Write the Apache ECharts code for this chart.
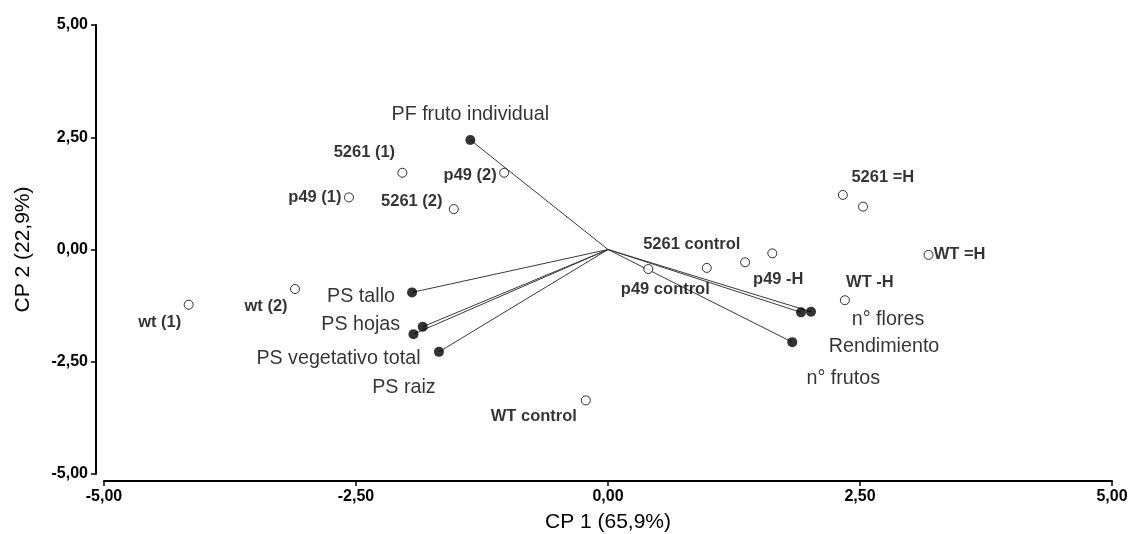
<!DOCTYPE html>
<html>
<head>
<meta charset="utf-8">
<title>Biplot CP1 / CP2</title>
<script src="https://cdn.jsdelivr.net/npm/echarts@6/dist/echarts.min.js"></script>
<style>
  html, body { margin: 0; padding: 0; background: #fff; }
  #chart { width: 1134px; height: 534px; }
</style>
</head>
<body>
<div id="chart"></div>
<script>
// Axis ticks (shared by both principal components)
const axisTicks = [-5, -2.5, 0, 2.5, 5];

// Observations (open circles): scores on CP 1 and CP 2
const obsNames = ['5261 (1)', 'p49 (1)', '5261 (2)', 'p49 (2)', 'wt (1)', 'wt (2)',
  'WT control', 'p49 control', '5261 control', '', 'p49 -H', 'WT -H', '5261 =H', '', 'WT =H'];
const obsX = [-2.04, -2.57, -1.53, -1.03, -4.16, -3.105, -0.22, 0.40, 0.98, 1.36, 1.63, 2.35, 2.33, 2.53, 3.18];
const obsY = [1.71, 1.16, 0.90, 1.71, -1.23, -0.88, -3.36, -0.435, -0.41, -0.285, -0.085, -1.13, 1.215, 0.955, -0.12];

// Variables (vectors from the origin, filled dots)
const varNames = ['PF fruto individual', 'PS tallo', 'PS hojas', 'PS vegetativo total', 'PS raiz',
  'n° flores', 'Rendimiento', 'n° frutos'];
const varX = [-1.366, -1.944, -1.838, -1.93, -1.677, 2.014, 1.915, 1.828];
const varY = [2.44, -0.955, -1.72, -1.885, -2.28, -1.387, -1.40, -2.063];

// Label placement (pixel offsets from each mark to its label centre)
const obsLabelOffsets = [[-38, -20], [-34, 0], [-42, -8], [-34, 3], [-29, 18], [-29, 17],
  [-52, 16], [17, 20], [-15, -23], [0, 0], [6, 26], [25, -18], [40, -17], [0, 0], [31, 0]];
const varLabelOffsets = [[0, -25], [-51, 4], [-62, -2], [-75, 24], [-35, 36], [77, 8], [83, 34], [51, 36]];

const fmt = v => v.toFixed(2).replace('.', ',');
const FONT = '"Liberation Sans", Arial, sans-serif';

const obsData = obsX.map((x, i) => ({
  value: [x, obsY[i]],
  name: obsNames[i],
  label: { show: obsNames[i] !== '', offset: obsLabelOffsets[i] }
}));

const varData = varX.map((x, i) => ({
  value: [x, varY[i]],
  name: varNames[i],
  label: { offset: varLabelOffsets[i] }
}));

const vectorData = varX.map((x, i) => ({ coords: [[0, 0], [x, varY[i]]] }));

const axisCommon = {
  type: 'value',
  min: axisTicks[0],
  max: axisTicks[axisTicks.length - 1],
  interval: axisTicks[1] - axisTicks[0],
  splitLine: { show: false },
  axisLine: { show: true, onZero: false, lineStyle: { color: '#000', width: 2 } },
  axisTick: { show: true, inside: false, length: 5, lineStyle: { color: '#000', width: 1.5 } },
  axisLabel: {
    formatter: fmt,
    color: '#000',
    fontFamily: FONT,
    fontWeight: 'bold',
    fontSize: 16,
    margin: 8
  },
  nameLocation: 'middle',
  nameTextStyle: { color: '#000', fontFamily: FONT, fontSize: 21 }
};

const chart = echarts.init(document.getElementById('chart'), null, { renderer: 'canvas' });
chart.setOption({
  animation: false,
  backgroundColor: '#fff',
  grid: {
    left: 104, right: 22, top: 25, bottom: 60,
    containLabel: false,
    outerBoundsMode: 'none'
  },
  xAxis: Object.assign({}, axisCommon, {
    name: 'CP 1 (65,9%)',
    offset: 7,
    nameGap: 31
  }),
  yAxis: Object.assign({}, axisCommon, {
    name: 'CP 2 (22,9%)',
    offset: 8,
    nameGap: 62,
    nameRotate: 90
  }),
  series: [
    {
      type: 'lines',
      coordinateSystem: 'cartesian2d',
      data: vectorData,
      symbol: 'none',
      lineStyle: { color: '#3a3a3a', width: 1, opacity: 1 },
      silent: true,
      z: 2
    },
    {
      type: 'scatter',
      data: varData,
      symbol: 'circle',
      symbolSize: 10,
      itemStyle: { color: '#000' },
      label: {
        show: true,
        position: 'inside',
        formatter: p => p.name,
        color: '#000',
        fontFamily: FONT,
        fontSize: 19.7
      },
      z: 4
    },
    {
      type: 'scatter',
      data: obsData,
      symbol: 'circle',
      symbolSize: 9,
      itemStyle: { color: '#fff', borderColor: '#000', borderWidth: 1 },
      label: {
        position: 'inside',
        formatter: p => p.name,
        color: '#000',
        fontFamily: FONT,
        fontWeight: 'bold',
        fontSize: 16.5
      },
      z: 3
    }
  ]
});
</script>
</body>
</html>
